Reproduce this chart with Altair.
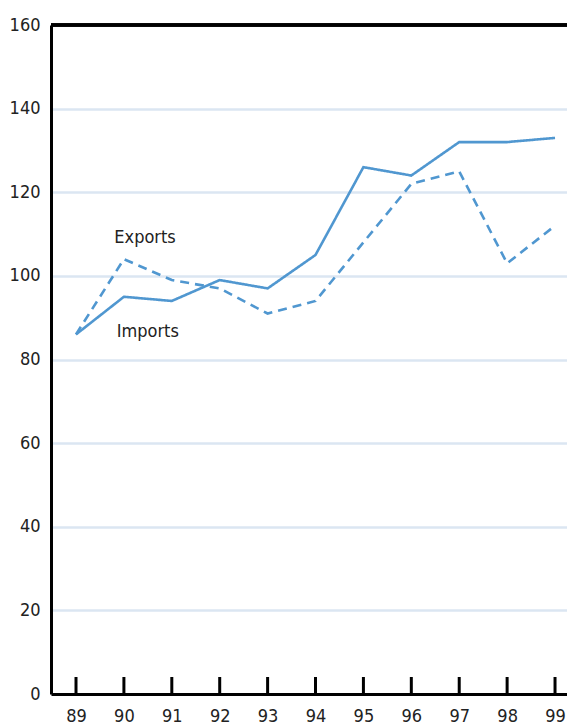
import altair as alt
import pandas as pd

years = [89, 90, 91, 92, 93, 94, 95, 96, 97, 98, 99]
imports = [86, 95, 94, 99, 97, 105, 126, 124, 132, 132, 133]
exports = [86, 104, 99, 97, 91, 94, 108, 122, 125, 103, 112]

label_text = ["Exports", "Imports"]
label_x = [89.8, 89.85]
label_y = [109, 86.5]

y_ticks = [0, 20, 40, 60, 80, 100, 120, 140, 160]

W = 516
H = 669
FONT = "Liberation Sans Narrow, DejaVu Sans Condensed, sans-serif"
LINE = "#5097d0"

df = pd.DataFrame({
    "year": years * 2,
    "value": imports + exports,
    "series": ["Imports"] * len(years) + ["Exports"] * len(years),
})
ticks_df = pd.DataFrame({"year": years})
labels_df = pd.DataFrame({"text": label_text, "x": label_x, "y": label_y})

xscale = alt.Scale(domain=[88.478, 99.25], nice=False, zero=False)
yscale = alt.Scale(domain=[0, 160], nice=False)

lines = alt.Chart(df).mark_line(strokeWidth=2.6, color=LINE).encode(
    x=alt.X("year:Q", scale=xscale,
            axis=alt.Axis(values=years, format="d", title=None, grid=False,
                          tickSize=0, labelPadding=13, domainColor="black",
                          domainWidth=3, labelFont=FONT, labelFontSize=18,
                          labelColor="#222")),
    y=alt.Y("value:Q", scale=yscale,
            axis=alt.Axis(values=y_ticks, title=None, tickSize=0, labelPadding=11,
                          domainColor="black", domainWidth=3, gridColor="#dbe6f2",
                          gridWidth=2.5, labelFont=FONT, labelFontSize=18,
                          labelColor="#222")),
    strokeDash=alt.StrokeDash("series:N",
                              scale=alt.Scale(domain=["Imports", "Exports"],
                                              range=[[1, 0], [9, 6]]),
                              legend=None),
    detail="series:N",
)

inner_ticks = alt.Chart(ticks_df).mark_rule(color="black", strokeWidth=3).encode(
    x=alt.X("year:Q", scale=xscale),
    y=alt.value(H),
    y2=alt.value(H - 17),
)

top_border = alt.Chart(ticks_df).mark_rule(color="black", strokeWidth=2.6).encode(
    x=alt.value(0), x2=alt.value(W), y=alt.value(0)
)

labels = alt.Chart(labels_df).mark_text(
    align="left", baseline="middle", font=FONT, fontSize=18, color="#222"
).encode(
    x=alt.X("x:Q", scale=xscale),
    y=alt.Y("y:Q", scale=yscale),
    text="text:N",
)

chart = alt.layer(lines, inner_ticks, top_border, labels).properties(
    width=W, height=H,
    autosize=alt.AutoSizeParams(type="none"),
    padding={"left": 43, "top": 17, "right": 0, "bottom": 30},
).configure_view(stroke=None).configure(background="white")

chart.save("out.html", embed_options={"renderer": "svg", "actions": False})
